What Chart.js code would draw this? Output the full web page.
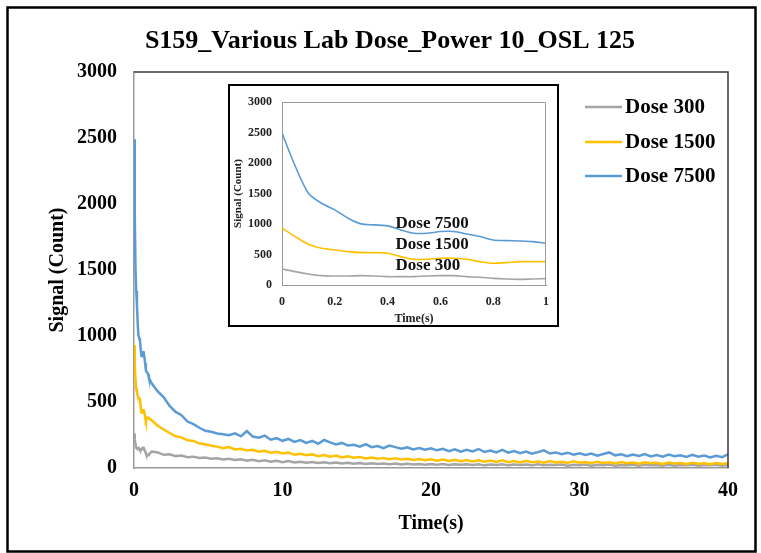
<!DOCTYPE html>
<html>
<head>
<meta charset="utf-8">
<script src="https://cdn.jsdelivr.net/npm/chart.js@4/dist/chart.umd.min.js"></script>
<style>
  html, body { margin: 0; padding: 0; background: #fff; }
  #wrap { position: relative; width: 761px; height: 553px; overflow: hidden; }
  #main { position: absolute; left: 0; top: 0; width: 761px; height: 553px; }
  #inset { position: absolute; left: 228px; top: 84px; width: 331px; height: 243px; }
</style>
</head>
<body>
<div id="wrap">
  <canvas id="main" width="761" height="553"></canvas>
  <canvas id="inset" width="331" height="243"></canvas>
</div>
<script>
// ---- titles and labels ----
const mainTitle = 'S159_Various Lab Dose_Power 10_OSL 125';
const xTitle = 'Time(s)';
const yTitle = 'Signal (Count)';
const seriesNames = ['Dose 300', 'Dose 1500', 'Dose 7500'];
const seriesColors = ['#A5A5A5', '#FFC000', '#5B9BD5'];

// ---- first second of the decay (0.05 s steps) ----
const earlyTime = [0, 0.05, 0.1, 0.15, 0.2, 0.25, 0.3, 0.35, 0.4, 0.45,
                   0.5, 0.55, 0.6, 0.65, 0.7, 0.75, 0.8, 0.85, 0.9, 0.95, 1.0];
const earlyDose300 = [262, 219, 181, 153, 148, 148, 153, 148, 137, 137,
                      137, 148, 153, 153, 137, 126, 109, 99, 93, 99, 104];
const earlyDose1500 = [930, 794, 668, 602, 575, 547, 531, 531, 520, 465,
                       421, 421, 438, 438, 421, 383, 356, 367, 383, 383, 383];
const earlyDose7500 = [2490, 1950, 1505, 1341, 1232, 1095, 1002, 985, 969, 903,
                       848, 848, 876, 876, 837, 794, 739, 728, 722, 711, 684];

// ---- remainder of the decay (0.4 s steps) ----
const tailTime = [
  1.2, 1.6, 2.0, 2.4, 2.8, 3.2, 3.6, 4.0, 4.4, 4.8,
  5.2, 5.6, 6.0, 6.4, 6.8, 7.2, 7.6, 8.0, 8.4, 8.8,
  9.2, 9.6, 10.0, 10.4, 10.8, 11.2, 11.6, 12.0, 12.4, 12.8,
  13.2, 13.6, 14.0, 14.4, 14.8, 15.2, 15.6, 16.0, 16.4, 16.8,
  17.2, 17.6, 18.0, 18.4, 18.8, 19.2, 19.6, 20.0, 20.4, 20.8,
  21.2, 21.6, 22.0, 22.4, 22.8, 23.2, 23.6, 24.0, 24.4, 24.8,
  25.2, 25.6, 26.0, 26.4, 26.8, 27.2, 27.6, 28.0, 28.4, 28.8,
  29.2, 29.6, 30.0, 30.4, 30.8, 31.2, 31.6, 32.0, 32.4, 32.8,
  33.2, 33.6, 34.0, 34.4, 34.8, 35.2, 35.6, 36.0, 36.4, 36.8,
  37.2, 37.6, 38.0, 38.4, 38.8, 39.2, 39.6, 40.0];
const tailDose300 = [
  125, 118, 100, 104, 90, 94, 82, 86, 76, 80,
  70, 74, 64, 70, 60, 66, 56, 62, 52, 58,
  48, 54, 44, 52, 42, 48, 40, 46, 38, 44,
  36, 42, 34, 40, 32, 38, 30, 36, 30, 34,
  28, 34, 26, 32, 26, 30, 24, 30, 24, 30,
  22, 28, 24, 28, 22, 28, 20, 26, 22, 28,
  20, 26, 22, 26, 20, 28, 20, 24, 22, 26,
  18, 24, 20, 26, 18, 24, 20, 26, 18, 22,
  20, 24, 18, 24, 20, 22, 18, 24, 18, 22,
  20, 24, 18, 22, 20, 24, 18, 22];
const tailDose1500 = [
  360, 320, 292, 265, 240, 232, 210, 205, 185, 180,
  168, 162, 150, 158, 140, 146, 132, 138, 124, 130,
  116, 122, 110, 118, 100, 108, 96, 104, 90, 98,
  86, 94, 80, 88, 78, 84, 72, 80, 70, 76,
  66, 74, 64, 70, 60, 68, 58, 66, 56, 64,
  54, 62, 52, 60, 50, 58, 48, 56, 46, 58,
  44, 52, 42, 54, 44, 50, 40, 52, 42, 48,
  38, 50, 40, 46, 36, 48, 38, 44, 34, 46,
  36, 42, 32, 44, 36, 40, 30, 42, 34, 38,
  30, 40, 32, 36, 28, 38, 30, 36];
const tailDose7500 = [
  640, 580, 535, 470, 425, 400, 352, 332, 305, 282,
  274, 262, 256, 248, 262, 240, 280, 238, 230, 246,
  214, 226, 206, 220, 198, 212, 190, 205, 184, 212,
  194, 178, 190, 170, 176, 162, 180, 158, 166, 150,
  170, 158, 146, 156, 140, 152, 138, 150, 134, 146,
  128, 142, 124, 138, 126, 144, 122, 132, 118, 138,
  116, 128, 112, 124, 108, 120, 134, 110, 118, 104,
  116, 100, 112, 98, 110, 94, 106, 118, 96, 104,
  90, 102, 92, 106, 88, 98, 86, 102, 90, 96,
  84, 100, 86, 94, 80, 92, 82, 104];

// ---- annotation positions in the zoomed panel (data units) ----
const insetLabelX = 0.43;
const insetLabelY = [311, 656, 1000];

// ---- tick setup ----
const mainXTicks = [0, 10, 20, 30, 40];
const yTicks = [0, 500, 1000, 1500, 2000, 2500, 3000];
const insetXTicks = [0, 0.2, 0.4, 0.6, 0.8, 1];

const serif = "'Liberation Serif', 'Times New Roman', serif";
const plainLabel = v => String(v);

function toPoints(times, values) {
  return times.map((t, i) => ({ x: t, y: values[i] }));
}

const fullSeries = [
  toPoints(earlyTime.concat(tailTime), earlyDose300.concat(tailDose300)),
  toPoints(earlyTime.concat(tailTime), earlyDose1500.concat(tailDose1500)),
  toPoints(earlyTime.concat(tailTime), earlyDose7500.concat(tailDose7500))
];
const earlySeries = [
  toPoints(earlyTime, earlyDose300),
  toPoints(earlyTime, earlyDose1500),
  toPoints(earlyTime, earlyDose7500)
];

// ---- main chart decorations: outer frame, plot frame, title, legend ----
const mainDecor = {
  id: 'mainDecor',
  beforeDraw(chart) {
    const ctx = chart.ctx;
    ctx.save();
    ctx.fillStyle = '#fff';
    ctx.fillRect(0, 0, chart.width, chart.height);
    ctx.restore();
  },
  afterDraw(chart) {
    const { ctx, chartArea: a } = chart;
    ctx.save();
    ctx.strokeStyle = '#000';
    ctx.lineWidth = 2.5;
    ctx.strokeRect(7.5, 7.5, 748, 544);

    ctx.strokeStyle = '#3a3a3a';
    ctx.lineWidth = 1.5;
    ctx.beginPath();
    ctx.moveTo(a.left, a.top);
    ctx.lineTo(a.right, a.top);
    ctx.lineTo(a.right, a.bottom);
    ctx.stroke();

    ctx.fillStyle = '#000';
    ctx.font = 'bold 26px ' + serif;
    ctx.textAlign = 'center';
    ctx.textBaseline = 'middle';
    ctx.fillText(mainTitle, 390, 41);

    const legendY = [107, 142, 176];
    ctx.font = 'bold 21px ' + serif;
    ctx.textAlign = 'left';
    seriesNames.forEach((name, i) => {
      ctx.strokeStyle = seriesColors[i];
      ctx.lineWidth = 2.5;
      ctx.beginPath();
      ctx.moveTo(585, legendY[i]);
      ctx.lineTo(622, legendY[i]);
      ctx.stroke();
      ctx.fillStyle = '#000';
      ctx.fillText(name, 625, legendY[i] + 1);
    });
    ctx.restore();
  }
};

new Chart(document.getElementById('main'), {
  type: 'line',
  data: {
    datasets: seriesNames.map((name, i) => ({
      label: name,
      data: fullSeries[i],
      borderColor: seriesColors[i],
      borderWidth: 2.5,
      pointRadius: 0,
      tension: 0,
      fill: false,
      order: 3 - i
    }))
  },
  options: {
    responsive: false,
    animation: false,
    events: [],
    layout: { padding: { left: 0, top: 72, right: 33, bottom: 0 } },
    plugins: { legend: { display: false }, title: { display: false }, tooltip: { enabled: false } },
    scales: {
      x: {
        type: 'linear', min: 0, max: 40,
        afterBuildTicks(s) { s.ticks = mainXTicks.map(v => ({ value: v })); },
        afterFit(s) { s.height = 85; },
        grid: { display: false, drawTicks: false },
        border: { display: true, color: '#9a9a9a', width: 1.5 },
        ticks: { color: '#000', font: { family: serif, size: 20, weight: 'bold' }, padding: 11, maxRotation: 0, callback: plainLabel },
        title: { display: true, text: xTitle, color: '#000', font: { family: serif, size: 20, weight: 'bold' }, padding: { bottom: 17, top: 0 } }
      },
      y: {
        min: 0, max: 3000,
        afterBuildTicks(s) { s.ticks = yTicks.map(v => ({ value: v })); },
        afterFit(s) { s.width = 134; },
        grid: { display: false, drawTicks: false },
        border: { display: true, color: '#9a9a9a', width: 1.5 },
        ticks: { color: '#000', font: { family: serif, size: 20, weight: 'bold' }, padding: 17, callback: plainLabel },
        title: { display: true, text: yTitle, color: '#000', font: { family: serif, size: 20, weight: 'bold' }, padding: { top: 46, bottom: 0 } }
      }
    }
  },
  plugins: [mainDecor]
});

// ---- zoomed panel: first second of the decay ----
const insetDecor = {
  id: 'insetDecor',
  beforeDraw(chart) {
    const ctx = chart.ctx;
    ctx.save();
    ctx.fillStyle = '#fff';
    ctx.fillRect(0, 0, chart.width, chart.height);
    ctx.restore();
  },
  afterDraw(chart) {
    const { ctx, chartArea: a, scales } = chart;
    ctx.save();
    ctx.strokeStyle = '#9a9a9a';
    ctx.lineWidth = 1;
    ctx.beginPath();
    ctx.moveTo(a.left, a.top + 0.5);
    ctx.lineTo(a.right - 0.5, a.top + 0.5);
    ctx.lineTo(a.right - 0.5, a.bottom);
    ctx.stroke();

    ctx.strokeStyle = '#000';
    ctx.lineWidth = 2;
    ctx.strokeRect(1, 1, chart.width - 2, chart.height - 2);

    ctx.fillStyle = '#111';
    ctx.font = 'bold 17px ' + serif;
    ctx.textAlign = 'left';
    ctx.textBaseline = 'middle';
    const px = scales.x.getPixelForValue(insetLabelX);
    seriesNames.forEach((name, i) => {
      ctx.fillText(name, px, scales.y.getPixelForValue(insetLabelY[i]));
    });
    ctx.restore();
  }
};

new Chart(document.getElementById('inset'), {
  type: 'line',
  data: {
    datasets: seriesNames.map((name, i) => ({
      label: name,
      data: earlySeries[i],
      borderColor: seriesColors[i],
      borderWidth: 1.6,
      pointRadius: 0,
      tension: 0.3,
      fill: false
    }))
  },
  options: {
    responsive: false,
    animation: false,
    events: [],
    layout: { padding: { left: 0, top: 18, right: 12, bottom: 0 } },
    plugins: { legend: { display: false }, title: { display: false }, tooltip: { enabled: false } },
    scales: {
      x: {
        type: 'linear', min: 0, max: 1,
        afterBuildTicks(s) { s.ticks = insetXTicks.map(v => ({ value: v })); },
        afterFit(s) { s.height = 42; },
        grid: { display: false, drawTicks: false },
        border: { display: true, color: '#9a9a9a', width: 1 },
        ticks: { color: '#222', font: { family: serif, size: 12, weight: 'bold' }, padding: 10, maxRotation: 0, callback: plainLabel },
        title: { display: true, text: xTitle, color: '#222', font: { family: serif, size: 12, weight: 'bold' }, padding: { bottom: 1, top: 0 } }
      },
      y: {
        min: 0, max: 3000,
        afterBuildTicks(s) { s.ticks = yTicks.map(v => ({ value: v })); },
        afterFit(s) { s.width = 54; },
        grid: { display: false, drawTicks: false },
        border: { display: true, color: '#9a9a9a', width: 1 },
        ticks: { color: '#222', font: { family: serif, size: 12, weight: 'bold' }, padding: 10, callback: plainLabel },
        title: { display: true, text: yTitle, color: '#222', font: { family: serif, size: 11, weight: 'bold' }, padding: { top: 4, bottom: 0 } }
      }
    }
  },
  plugins: [insetDecor]
});
</script>
</body>
</html>
